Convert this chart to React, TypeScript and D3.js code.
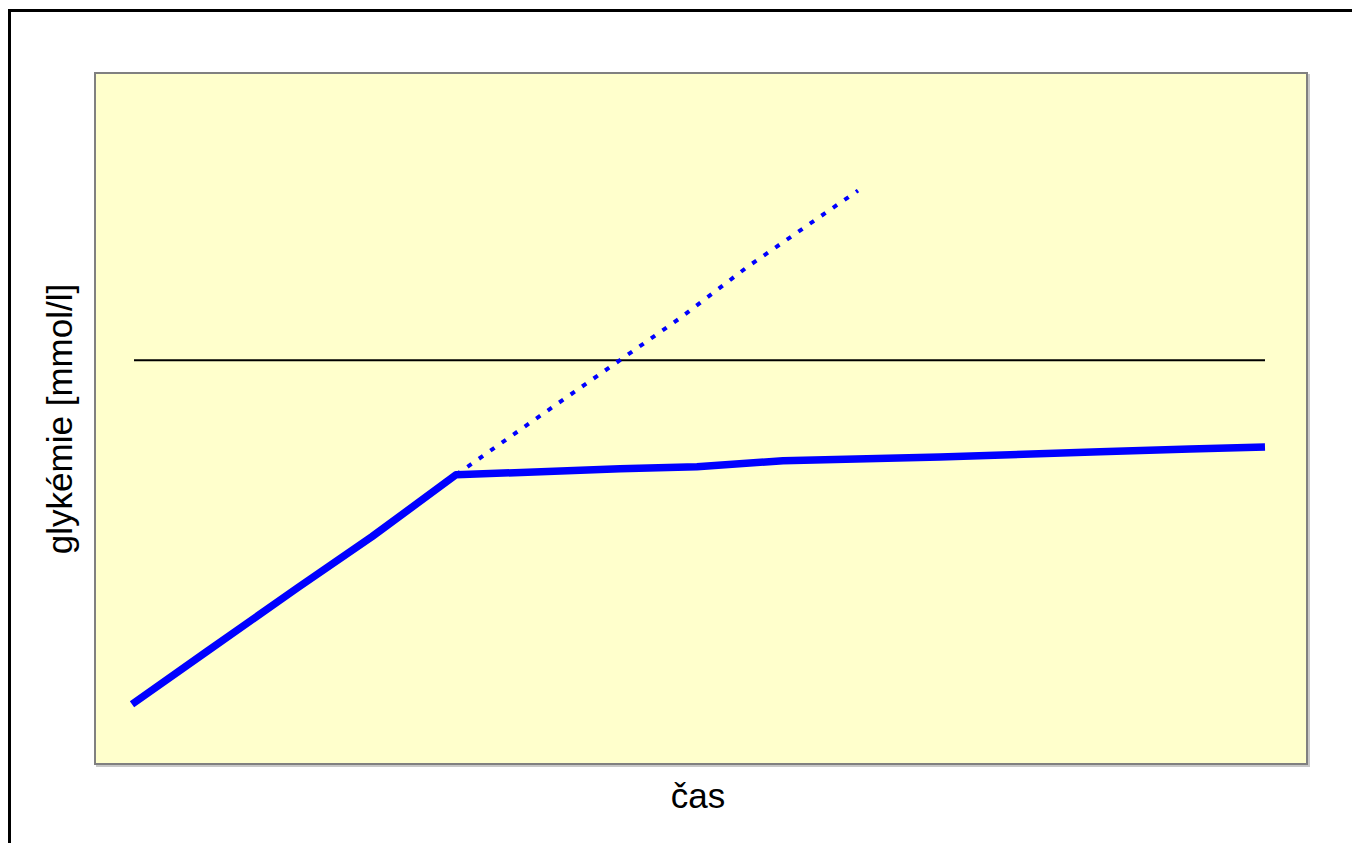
import React from 'react';
import * as d3 from 'd3';

// time (arbitrary units) and glycaemia [mmol/l]
const solidTime = [0, 7.5, 16.6, 24, 32.4, 48.8, 56.5, 65.1, 80.8, 96.8, 105.8, 113.3];
const solidGly = [1.48, 2.79, 4.37, 5.63, 7.16, 7.31, 7.36, 7.51, 7.6, 7.73, 7.8, 7.85];
const dottedTime = [32.4, 40.8, 48.8, 54.8, 61.6, 72.6];
const dottedGly = [7.16, 8.62, 10.0, 11.04, 12.32, 14.2];
const thresholdTime = [0.2, 113.3];
const thresholdGly = [10, 10];

const W = 1352;
const H = 843;
const plot = { left: 95, top: 73, right: 1307, bottom: 764 };

const App: React.FC = () => {
  const x = d3.scaleLinear().domain([0, 113.3]).range([132, 1265]);
  const y = d3.scaleLinear().domain([0, 17.11]).range([plot.bottom, plot.top]);

  const line = d3.line<[number, number]>()
    .x(d => x(d[0]))
    .y(d => y(d[1]));

  const solid = solidTime.map((t, i) => [t, solidGly[i]] as [number, number]);
  const dotted = dottedTime.map((t, i) => [t, dottedGly[i]] as [number, number]);
  const thresh = thresholdTime.map((t, i) => [t, thresholdGly[i]] as [number, number]);

  const font = '"Liberation Sans", Arial, sans-serif';

  return (
    <svg width={W} height={H} style={{ position: 'absolute', left: 0, top: 0 }}>
      <rect x={0} y={0} width={W} height={H} fill="#fff" />
      <rect x={9.5} y={10.5} width={W + 20} height={H + 20} fill="none" stroke="#000" strokeWidth={3} />
      {/* plot area with shadow */}
      <rect x={plot.left + 2} y={plot.top + 2} width={plot.right - plot.left} height={plot.bottom - plot.top}
        fill="none" stroke="#c8c8c8" strokeWidth={2} />
      <rect x={plot.left} y={plot.top} width={plot.right - plot.left} height={plot.bottom - plot.top}
        fill="#ffffcc" stroke="#808080" strokeWidth={2} />

      <path d={line(thresh) || ''} fill="none" stroke="#000" strokeWidth={2} />
      <path d={line(dotted) || ''} fill="none" stroke="#0000ff" strokeWidth={4} strokeDasharray="5 9" />
      <path d={line(solid) || ''} fill="none" stroke="#0000ff" strokeWidth={7.5} strokeLinejoin="round" />

      <text x={0} y={0} transform={`translate(72, 419) rotate(-90)`} textAnchor="middle"
        fontFamily={font} fontSize={35} fill="#000">glykémie [mmol/l]</text>
      <text x={698} y={808} textAnchor="middle" fontFamily={font} fontSize={35} fill="#000">čas</text>
    </svg>
  );
};

export default App;
